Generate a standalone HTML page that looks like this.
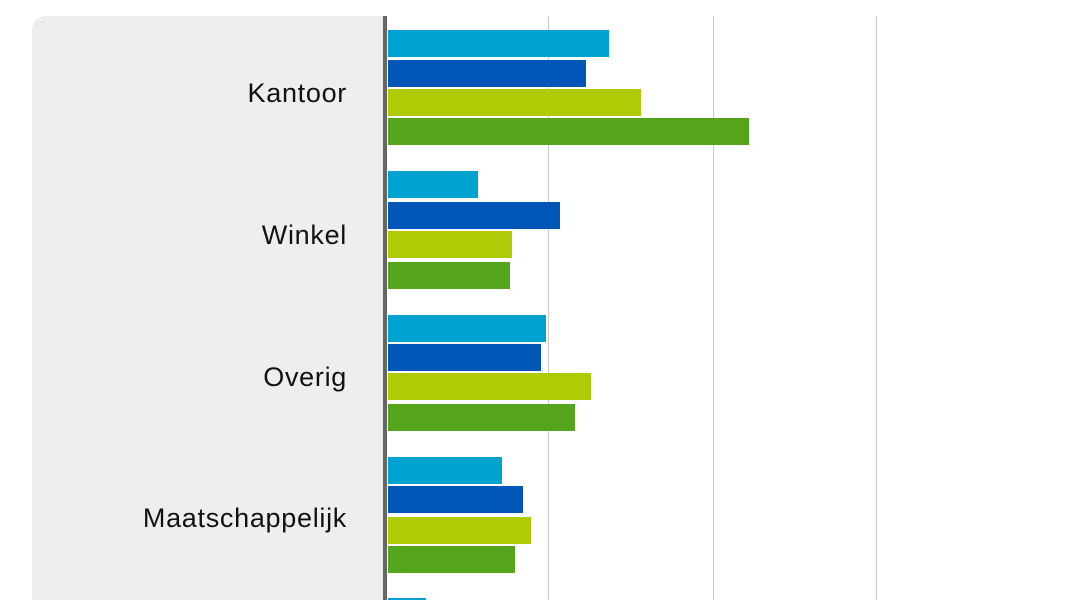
<!DOCTYPE html><html style="margin:0;width:1066px;height:600px;overflow:hidden"><head><style>body{margin:0;background:#fff;width:1066px;height:600px;overflow:hidden;position:relative;font-family:"Liberation Sans",sans-serif}
.p{position:absolute;left:32px;top:16px;width:352px;height:584px;background:#eeeeee;border-top-left-radius:14px}
.ax{position:absolute;left:383px;top:16px;width:4px;height:584px;background:#666}
.g{position:absolute;top:16px;width:1px;height:584px;background:#c8c8c8}
.b{position:absolute;left:388px;height:27px}
.c{background:#00a2d0}.d{background:#0057b8}.l{background:#afcb05}.n{background:#55a51c}
.t{position:absolute;right:719px;font-size:27px;color:#111;line-height:30px;letter-spacing:0.7px}
</style></head><body>
<div class="p"></div>
<div class="g" style="left:548px"></div><div class="g" style="left:713px"></div><div class="g" style="left:876px"></div>
<div class="ax"></div>
<div class="t" style="top:78px">Kantoor</div>
<div class="t" style="top:220px">Winkel</div>
<div class="t" style="top:362px">Overig</div>
<div class="t" style="top:503px">Maatschappelijk</div>
<div class="b c" style="top:30px;width:221px"></div>
<div class="b d" style="top:60px;width:198px"></div>
<div class="b l" style="top:89px;width:253px"></div>
<div class="b n" style="top:118px;width:361px"></div>
<div class="b c" style="top:171px;width:90px"></div>
<div class="b d" style="top:202px;width:172px"></div>
<div class="b l" style="top:231px;width:124px"></div>
<div class="b n" style="top:262px;width:122px"></div>
<div class="b c" style="top:315px;width:158px"></div>
<div class="b d" style="top:344px;width:153px"></div>
<div class="b l" style="top:373px;width:203px"></div>
<div class="b n" style="top:404px;width:187px"></div>
<div class="b c" style="top:457px;width:114px"></div>
<div class="b d" style="top:486px;width:135px"></div>
<div class="b l" style="top:517px;width:143px"></div>
<div class="b n" style="top:546px;width:127px"></div>
<div class="b c" style="top:598px;width:38px;height:2px"></div>
</body></html>
